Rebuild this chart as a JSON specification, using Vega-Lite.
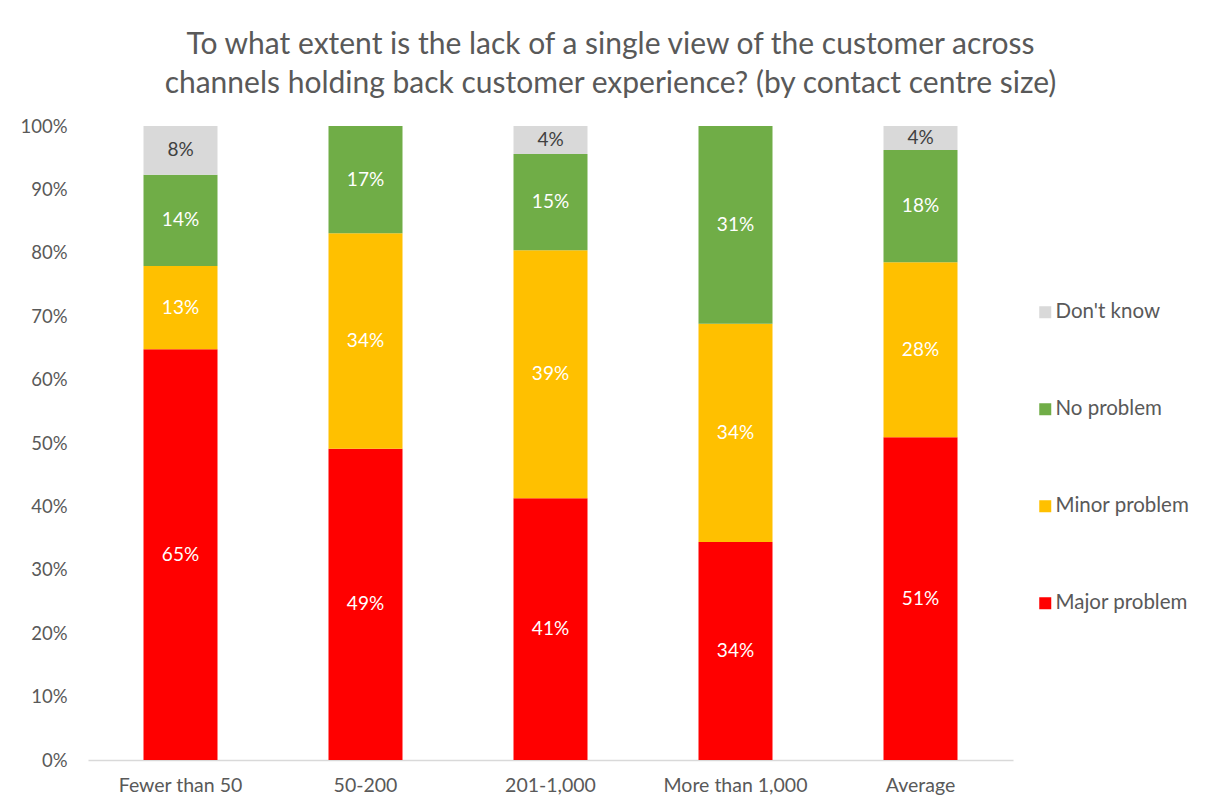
{
  "$schema": "https://vega.github.io/schema/vega-lite/v6.json",
  "width": 925,
  "height": 634,
  "autosize": {"type": "none"},
  "padding": {"left": 88, "top": 126, "right": 192, "bottom": 45},
  "background": "white",
  "config": {"view": {"stroke": null}, "font": "Lato"},
  "title": {
    "text": ["To what extent is the lack of a single view of the customer across", "channels holding back customer experience? (by contact centre size)"],
    "fontSize": 30,
    "font": "Lato",
    "fontWeight": "normal",
    "color": "#595959",
    "anchor": "middle",
    "frame": "group",
    "dx": 60,
    "offset": 18,
    "lineHeight": 39
  },
  "data": {
    "values": [
      {"cat": "Fewer than 50", "s": "Major problem", "k": 1, "v": 0.648},
      {"cat": "Fewer than 50", "s": "Minor problem", "k": 2, "v": 0.131},
      {"cat": "Fewer than 50", "s": "No problem", "k": 3, "v": 0.144},
      {"cat": "Fewer than 50", "s": "Don't know", "k": 4, "v": 0.077},
      {"cat": "50-200", "s": "Major problem", "k": 1, "v": 0.491},
      {"cat": "50-200", "s": "Minor problem", "k": 2, "v": 0.340},
      {"cat": "50-200", "s": "No problem", "k": 3, "v": 0.169},
      {"cat": "201-1,000", "s": "Major problem", "k": 1, "v": 0.413},
      {"cat": "201-1,000", "s": "Minor problem", "k": 2, "v": 0.391},
      {"cat": "201-1,000", "s": "No problem", "k": 3, "v": 0.152},
      {"cat": "201-1,000", "s": "Don't know", "k": 4, "v": 0.044},
      {"cat": "More than 1,000", "s": "Major problem", "k": 1, "v": 0.344},
      {"cat": "More than 1,000", "s": "Minor problem", "k": 2, "v": 0.344},
      {"cat": "More than 1,000", "s": "No problem", "k": 3, "v": 0.312},
      {"cat": "Average", "s": "Major problem", "k": 1, "v": 0.509},
      {"cat": "Average", "s": "Minor problem", "k": 2, "v": 0.276},
      {"cat": "Average", "s": "No problem", "k": 3, "v": 0.177},
      {"cat": "Average", "s": "Don't know", "k": 4, "v": 0.038}
    ]
  },
  "transform": [
    {"stack": "v", "groupby": ["cat"], "sort": [{"field": "k", "order": "ascending"}], "as": ["v0", "v1"]},
    {"calculate": "(datum.v0 + datum.v1) / 2", "as": "mid"}
  ],
  "encoding": {
    "x": {
      "field": "cat",
      "type": "nominal",
      "sort": ["Fewer than 50", "50-200", "201-1,000", "More than 1,000", "Average"],
      "scale": {"paddingInner": 0.6, "paddingOuter": 0.3},
      "axis": {
        "title": null,
        "labelAngle": 0,
        "labelFontSize": 19.5,
        "labelColor": "#595959",
        "labelFont": "Lato",
        "labelPadding": 16,
        "ticks": false,
        "domainColor": "#D9D9D9",
        "domainWidth": 1.5
      }
    }
  },
  "layer": [
    {
      "mark": {"type": "bar"},
      "encoding": {
        "y": {
          "field": "v0",
          "type": "quantitative",
          "scale": {"domain": [0, 1], "nice": false},
          "axis": {
            "title": null,
            "values": [0, 0.1, 0.2, 0.3, 0.4, 0.5, 0.6, 0.7, 0.8, 0.9, 1],
            "format": ".0%",
            "grid": false,
            "domain": false,
            "ticks": false,
            "labelFontSize": 18.5,
            "labelColor": "#595959",
            "labelFont": "Lato",
            "labelPadding": 21
          }
        },
        "y2": {"field": "v1"},
        "color": {
          "field": "s",
          "type": "nominal",
          "scale": {
            "domain": ["Don't know", "No problem", "Minor problem", "Major problem"],
            "range": ["#D9D9D9", "#70AD47", "#FFC000", "#FF0000"]
          },
          "legend": {
            "title": null,
            "orient": "none",
            "legendX": 947,
            "legendY": 176,
            "padding": 0,
            "symbolType": "square",
            "symbolSize": 144,
            "symbolStrokeWidth": 0,
            "labelFontSize": 20.5,
            "labelColor": "#595959",
            "labelFont": "Lato",
            "labelOffset": 0,
            "rowPadding": 76
          }
        }
      }
    },
    {
      "mark": {"type": "text", "fontSize": 19, "font": "Lato", "baseline": "middle"},
      "encoding": {
        "y": {"field": "mid", "type": "quantitative"},
        "text": {"field": "v", "type": "quantitative", "format": ".0%"},
        "color": {
          "condition": {"test": "datum.s === \"Don't know\"", "value": "#404040"},
          "value": "#FFFFFF"
        }
      }
    }
  ]
}
